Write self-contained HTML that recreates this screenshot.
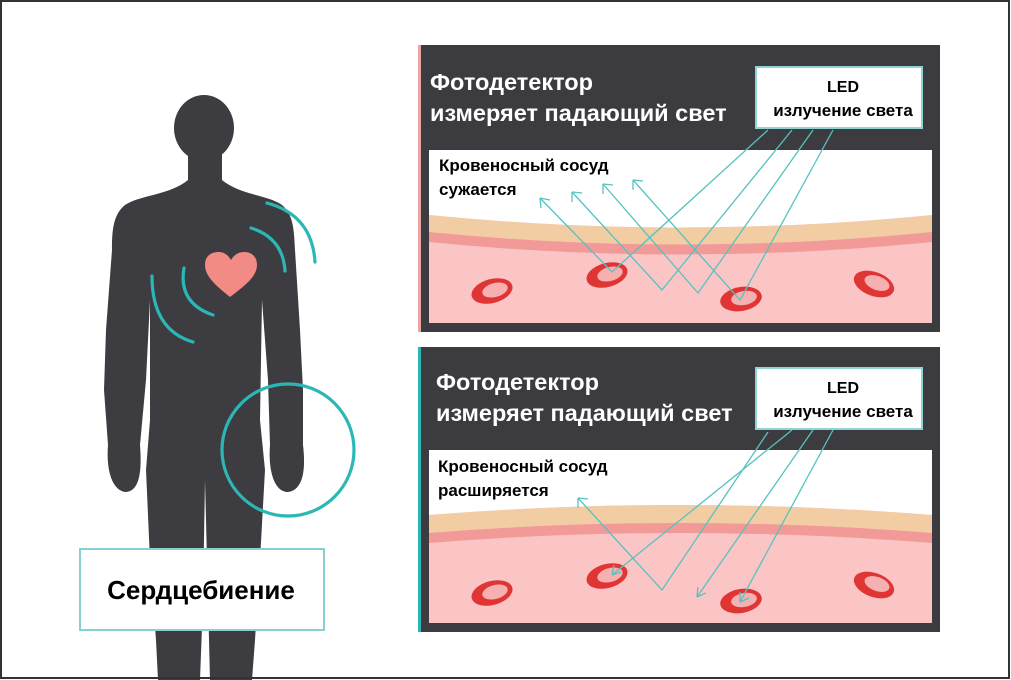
<!DOCTYPE html>
<html><head><meta charset="utf-8"><style>
html,body{margin:0;padding:0;background:#fff}
svg{display:block}
text{font-family:"Liberation Sans","DejaVu Sans",sans-serif;font-weight:bold}
</style></head><body>
<svg width="1011" height="680" viewBox="0 0 1011 680" xmlns="http://www.w3.org/2000/svg">
<rect x="0" y="0" width="1011" height="680" fill="#fff"/>
<!-- body -->
<g fill="#3d3c40">
<ellipse cx="204" cy="128" rx="30" ry="33"/>
<rect x="188" y="140" width="34" height="60" rx="10"/>
<path d="M188,180 C170,195 140,195 125,205 C112,215 112,235 112,250 L106,330 L104,390 L108,445 C106,470 112,490 125,492 C140,492 142,470 140,445 L146,380 L150,300
 L150,420 L146,470 L150,560 L156,640 L158,680 L200,680 L203,600 L205,480
 L208,600 L210,680 L252,680 L255,640 L260,560 L265,470 L260,420 L262,300
 L268,380 L270,445 C268,470 274,492 288,492 C303,490 306,470 303,445 L303,390 L300,330 L295,250 C294,232 294,215 282,205 C268,195 240,195 222,180 Z"/>
</g>
<path d="M230,297 C215,285 205,276 205,265 C205,255 212,252 219,252 C224,252 228,255 231,260 C234,255 238,252 244,252 C251,252 257,256 257,265 C257,276 246,285 230,297 Z" fill="#f28a85"/>
<g fill="none" stroke="#2bb7b5" stroke-width="3.2" stroke-linecap="round">
<path d="M267,203 Q312,215 315,262"/>
<path d="M251,228 Q283,238 285,271"/>
<path d="M184,268 Q178,303 213,315"/>
<path d="M152,276 Q152,330 193,342"/>
<circle cx="288" cy="450" r="66"/>
</g>
<rect x="80" y="549" width="244" height="81" fill="#fff" stroke="#88d0d0" stroke-width="2"/>
<text x="201" y="599" font-size="26" text-anchor="middle" fill="#000">Сердцебиение</text>

<!-- panel 1 -->
<rect x="418" y="45" width="522" height="287" fill="#3c3b3f"/>
<rect x="418" y="45" width="3" height="287" fill="#e9a4a4"/>
<rect x="429" y="150" width="503" height="173" fill="#fbc5c5"/>
<path d="M429,150 H932 V215 Q680,240 429,215 Z" fill="#fff"/>
<path d="M429,215 Q680,240 932,215 L932,232 Q680,257 429,232 Z" fill="#f2cda4"/>
<path d="M429,232 Q680,257 932,232 L932,242 Q680,267 429,242 Z" fill="#f29a98"/>
<text x="430" y="90" font-size="23.5" fill="#fff">Фотодетектор</text>
<text x="430" y="121" font-size="23.5" fill="#fff">измеряет падающий свет</text>
<rect x="756" y="67" width="166" height="61" fill="#fff" stroke="#8fd3d3" stroke-width="2"/>
<text x="843" y="92" font-size="16" text-anchor="middle" fill="#000">LED</text>
<text x="843" y="116" font-size="17" text-anchor="middle" fill="#000">излучение света</text>
<text x="439" y="171" font-size="17" fill="#000">Кровеносный сосуд</text>
<text x="439" y="195" font-size="17" fill="#000">сужается</text>
<g>
<ellipse cx="492" cy="291" rx="21" ry="12" fill="#e03535" transform="rotate(-15 492 291)"/>
<ellipse cx="495" cy="290" rx="13" ry="7" fill="#f7b0b0" transform="rotate(-15 495 290)"/>
<ellipse cx="607" cy="275" rx="21" ry="12" fill="#e03535" transform="rotate(-15 607 275)"/>
<ellipse cx="610" cy="274" rx="13" ry="7" fill="#f7b0b0" transform="rotate(-15 610 274)"/>
<ellipse cx="741" cy="299" rx="21" ry="12" fill="#e03535" transform="rotate(-10 741 299)"/>
<ellipse cx="744" cy="298" rx="13" ry="7" fill="#f7b0b0" transform="rotate(-10 744 298)"/>
<ellipse cx="874" cy="284" rx="21" ry="12" fill="#e03535" transform="rotate(20 874 284)"/>
<ellipse cx="877" cy="283" rx="13" ry="7" fill="#f7b0b0" transform="rotate(20 877 283)"/>
</g>
<g fill="none" stroke="#57c2c0" stroke-width="1.3">
<polyline points="768,130 612,272 540,198"/>
<polyline points="792,130 662,290 572,192"/>
<polyline points="813,130 698,293 603,184"/>
<polyline points="833,130 740,300 633,180"/>
<path d="M540,198 l1,10 M540,198 l10,2"/>
<path d="M572,192 l0,10 M572,192 l10,1"/>
<path d="M603,184 l0,10 M603,184 l10,1"/>
<path d="M633,180 l0,10 M633,180 l10,1"/>
</g>

<!-- panel 2 -->
<rect x="418" y="347" width="522" height="285" fill="#3c3b3f"/>
<rect x="418" y="347" width="3" height="285" fill="#2bb7b5"/>
<rect x="429" y="450" width="503" height="173" fill="#fbc5c5"/>
<path d="M429,450 H932 V515 Q680,495 429,515 Z" fill="#fff"/>
<path d="M429,515 Q680,495 932,515 L932,533 Q680,513 429,533 Z" fill="#f2cda4"/>
<path d="M429,533 Q680,513 932,533 L932,543 Q680,523 429,543 Z" fill="#f29a98"/>
<text x="436" y="390" font-size="23.5" fill="#fff">Фотодетектор</text>
<text x="436" y="421" font-size="23.5" fill="#fff">измеряет падающий свет</text>
<rect x="756" y="368" width="166" height="61" fill="#fff" stroke="#8fd3d3" stroke-width="2"/>
<text x="843" y="393" font-size="16" text-anchor="middle" fill="#000">LED</text>
<text x="843" y="417" font-size="17" text-anchor="middle" fill="#000">излучение света</text>
<text x="438" y="472" font-size="17" fill="#000">Кровеносный сосуд</text>
<text x="438" y="496" font-size="17" fill="#000">расширяется</text>
<g>
<ellipse cx="492" cy="593" rx="21" ry="12" fill="#e03535" transform="rotate(-15 492 593)"/>
<ellipse cx="495" cy="592" rx="13" ry="7" fill="#f7b0b0" transform="rotate(-15 495 592)"/>
<ellipse cx="607" cy="576" rx="21" ry="12" fill="#e03535" transform="rotate(-15 607 576)"/>
<ellipse cx="610" cy="575" rx="13" ry="7" fill="#f7b0b0" transform="rotate(-15 610 575)"/>
<ellipse cx="741" cy="601" rx="21" ry="12" fill="#e03535" transform="rotate(-10 741 601)"/>
<ellipse cx="744" cy="600" rx="13" ry="7" fill="#f7b0b0" transform="rotate(-10 744 600)"/>
<ellipse cx="874" cy="585" rx="21" ry="12" fill="#e03535" transform="rotate(20 874 585)"/>
<ellipse cx="877" cy="584" rx="13" ry="7" fill="#f7b0b0" transform="rotate(20 877 584)"/>
</g>
<g fill="none" stroke="#57c2c0" stroke-width="1.3">
<polyline points="768,432 662,590 578,498"/>
<line x1="792" y1="430" x2="612" y2="575"/>
<line x1="813" y1="430" x2="697" y2="597"/>
<line x1="833" y1="430" x2="740" y2="602"/>
<path d="M578,498 l0,10 M578,498 l10,1"/>
<path d="M612,575 l2,-10 M612,575 l9,-3"/>
<path d="M697,597 l1,-10 M697,597 l9,-4"/>
<path d="M740,602 l0,-10 M740,602 l9,-4"/>
</g>

<!-- outer frame -->
<rect x="1" y="1" width="1008" height="677" fill="none" stroke="#333" stroke-width="2"/>
</svg>
</body></html>
